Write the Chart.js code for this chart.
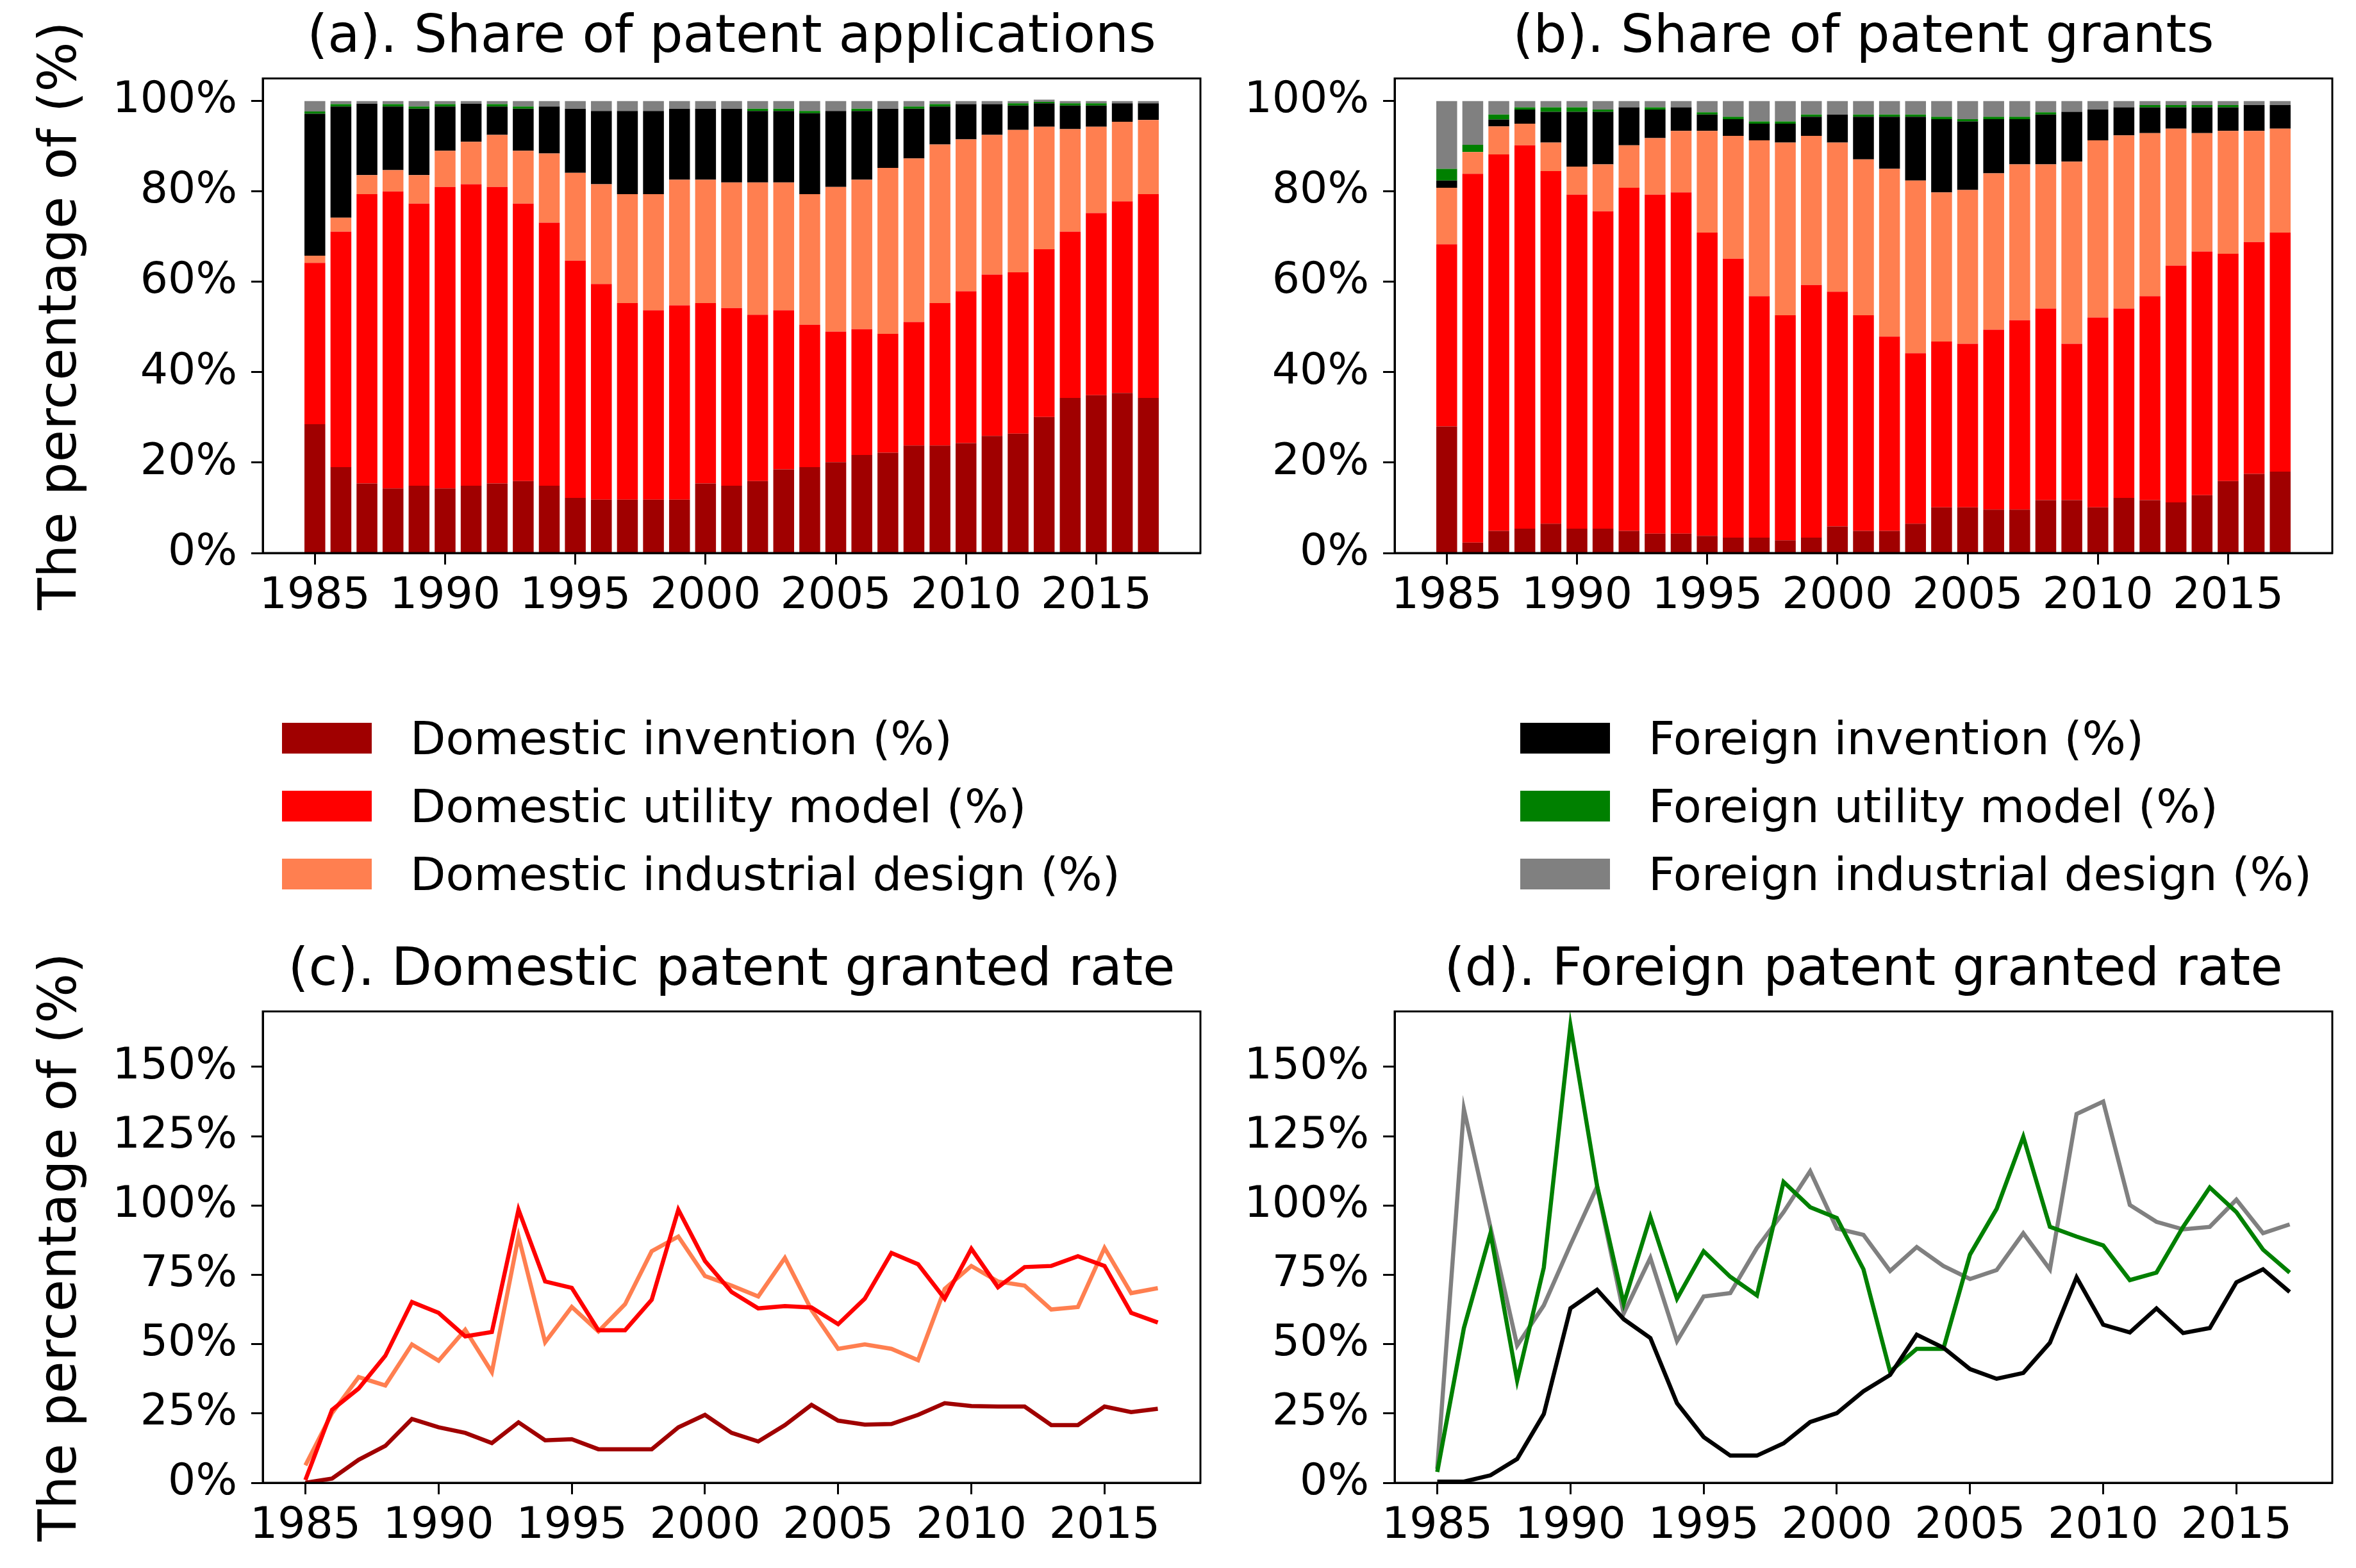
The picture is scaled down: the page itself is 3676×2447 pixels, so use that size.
<!DOCTYPE html>
<html>
<head>
<meta charset="utf-8">
<script src="https://cdn.jsdelivr.net/npm/chart.js@4.4.1/dist/chart.umd.min.js"></script>
<style>
  html, body { margin: 0; padding: 0; background: #fff; }
  body { position: relative; width: 3676px; height: 2447px; overflow: hidden; font-family: 'DejaVu Sans', sans-serif; }
  canvas { position: absolute; }
  .legend { position: absolute; }
  .legend-row { display: flex; align-items: center; height: 106px; font-size: 72px; color: #000; white-space: nowrap; }
  .legend-row .patch { width: 140px; height: 48px; margin-right: 60px; }
</style>
</head>
<body>
<canvas id="chart-a" width="1920" height="1010" style="left:0;top:0"></canvas>
<canvas id="chart-b" width="1756" height="1010" style="left:1920px;top:0"></canvas>
<canvas id="chart-c" width="1920" height="991" style="left:0;top:1456px"></canvas>
<canvas id="chart-d" width="1756" height="991" style="left:1920px;top:1456px"></canvas>
<div class="legend" id="legend-dom" style="left:440px;top:1099px"></div>
<div class="legend" id="legend-for" style="left:2372px;top:1099px"></div>

<script>
// ===== data =====
const years = [1985,1986,1987,1988,1989,1990,1991,1992,1993,1994,1995,1996,1997,1998,1999,2000,
  2001,2002,2003,2004,2005,2006,2007,2008,2009,2010,2011,2012,2013,2014,2015,2016,2017];
const yearTicks = [1985, 1990, 1995, 2000, 2005, 2010, 2015];
const shareTicks = [0, 20, 40, 60, 80, 100];
const rateTicks = [0, 25, 50, 75, 100, 125, 150];

const seriesNames = ['Domestic invention (%)', 'Domestic utility model (%)', 'Domestic industrial design (%)',
  'Foreign invention (%)', 'Foreign utility model (%)', 'Foreign industrial design (%)'];
const seriesColors = ['#a00000', '#ff0000', '#ff7f50', '#000000', '#008000', '#808080'];

// (a) share of applications
const appDomInv = [28.5,19.0,15.4,14.3,14.9,14.3,14.9,15.4,15.9,14.9,12.2,11.8,11.8,11.8,11.8,15.4,
  14.9,15.9,18.5,19.0,20.1,21.7,22.2,23.8,23.8,24.3,25.9,26.4,30.1,34.3,34.9,35.4,34.3];
const appDomUtil = [35.7,52.1,64.0,65.7,62.4,66.7,66.7,65.6,61.4,58.2,52.5,47.7,43.5,41.9,43.0,39.9,
  39.3,36.8,35.2,31.5,28.9,27.8,26.3,27.3,31.5,33.6,35.7,35.7,37.1,36.8,40.3,42.4,45.1];
const appDomDes = [1.6,3.1,4.2,4.7,6.3,8.0,9.4,11.5,11.7,15.3,19.4,22.1,24.1,25.7,27.8,27.3,
  27.8,29.3,28.3,28.9,32.0,33.1,36.7,36.2,35.1,33.6,30.9,31.5,27.1,22.7,19.1,17.6,16.4];
const appForInv = [31.4,24.6,15.8,14.1,14.7,9.8,8.4,6.3,9.3,10.4,14.2,16.2,18.4,18.4,15.7,15.7,
  16.3,15.8,15.8,17.9,16.8,15.2,13.1,11.0,8.4,7.8,6.8,5.4,5.2,5.2,4.7,4.1,3.7];
const appForUtil = [0.5,0.5,0,0.5,0.5,0.5,0,0.5,0.5,0,0,0,0,0,0,0,
  0,0.5,0.5,0.5,0,0.5,0,0.5,0.5,0,0,0.5,0.3,0.5,0.5,0,0];
const appForDes = [2.3,0.7,0.6,0.7,1.2,0.7,0.6,0.7,1.2,1.2,1.7,2.2,2.2,2.2,1.7,1.7,
  1.7,1.7,1.7,2.2,2.2,1.7,1.7,1.2,0.7,0.7,0.7,0.5,0.5,0.5,0.5,0.5,0.5];

// (b) share of grants
const grDomInv = [28.0,2.3,4.9,5.4,6.5,5.4,5.4,4.9,4.3,4.3,3.8,3.4,3.4,2.8,3.4,5.9,
  4.9,4.9,6.5,10.1,10.1,9.6,9.6,11.7,11.7,10.1,12.2,11.7,11.2,12.8,15.9,17.5,18.0];
const grDomUtil = [40.3,81.6,83.3,84.8,78.0,73.9,70.2,75.9,75.0,75.5,67.1,61.7,53.4,49.8,55.9,51.9,
  47.7,43.0,37.7,36.7,36.2,39.8,41.9,42.4,34.6,42.0,41.9,45.1,52.4,53.9,50.3,51.3,52.9];
const grDomDes = [12.5,4.8,6.2,4.8,6.3,6.2,10.4,9.4,12.5,13.6,22.5,27.2,34.5,38.2,33.0,33.0,
  34.5,37.1,38.2,33.0,34.0,34.6,34.5,31.9,40.3,39.2,38.3,36.1,30.3,26.2,27.2,24.6,23.0];
const grForInv = [1.6,0,1.5,3.1,6.8,12.1,11.6,8.4,6.3,5.2,3.6,3.7,3.7,4.2,4.2,6.2,
  9.4,11.5,14.1,16.2,15.2,12.0,10.0,11.0,11.0,6.8,6.2,5.7,4.7,5.7,5.2,5.7,5.2];
const grForUtil = [2.6,1.6,1.1,0.5,1.0,1.0,0.5,0,0.5,0,0.5,0.5,0.5,0.5,0.5,0,
  0.5,0.5,0.5,0.5,0.5,0.5,0.5,0.5,0,0,0,0.5,0.5,0.5,0.5,0,0];
const grForDes = [15.0,9.7,3.0,1.4,1.4,1.4,1.9,1.4,1.4,1.4,2.5,3.5,4.5,4.5,3.0,3.0,
  3.0,3.0,3.0,3.5,4.0,3.5,3.5,2.5,2.4,1.9,1.4,0.9,0.9,0.9,0.9,0.9,0.9];

// (c) domestic granted rate
const rateDomInv = [0,1.5,8.3,13.3,23.0,20.0,18.0,14.3,21.8,15.3,15.7,12.1,12.1,12.1,20.0,24.5,
  18.0,14.9,20.8,28.1,22.4,21.0,21.2,24.5,28.7,27.7,27.5,27.5,20.8,20.8,27.5,25.5,26.7];
const rateDomUtil = [1,26.3,34.0,45.8,65.2,61.3,52.8,54.4,98.5,72.6,70.3,55.0,55.0,66.0,98.5,80.0,
  68.8,62.9,63.7,63.2,57.2,66.4,82.9,78.8,66.4,84.4,70.5,77.8,78.2,81.7,78.2,61.3,57.8];
const rateDomDes = [6.3,25.1,38.1,35.1,49.9,44.0,55.2,39.9,88.8,50.7,63.4,54.6,64.4,83.5,88.8,74.6,
  71.1,67.2,81.1,62.3,48.3,49.9,48.3,44.2,69.9,78.2,72.6,71.1,62.5,63.4,84.7,68.4,70.2];

// (d) foreign granted rate
const rateForInv = [0.4,0.4,2.7,8.6,24.8,62.9,69.6,59.0,52.2,28.7,16.5,9.8,9.8,14.2,21.9,25.1,
  33.0,38.9,53.4,48.7,41.0,37.5,39.6,50.5,74.1,57.0,54.2,62.9,54.0,55.8,72.3,77.0,68.8];
const rateForUtil = [3.9,55.8,90.0,36.9,77.6,164.9,107.1,64.6,95.9,66.4,83.5,74.3,67.6,108.5,99.4,95.5,
  77.0,40.1,48.3,48.3,82.3,98.8,124.8,92.3,88.8,85.6,73.1,75.8,92.3,106.5,97.6,84.1,75.8];
const rateForDes = [5.0,134.8,92.0,49.5,64.0,85.8,106.8,61.1,81.1,51.1,67.2,68.4,84.7,97.6,112.4,91.7,
  89.4,76.4,85.0,78.2,73.5,76.7,90.0,77.0,133.0,137.5,100.2,94.1,91.4,92.3,102.1,90.0,93.2];

// ===== helpers =====
Chart.defaults.font.family = "'DejaVu Sans', sans-serif";
Chart.defaults.color = '#000';

// matplotlib-style box round the plot area
const frame = {
  id: 'frame',
  afterDraw(chart) {
    const { ctx, chartArea: a } = chart;
    ctx.save();
    ctx.strokeStyle = '#000';
    ctx.lineWidth = 3;
    ctx.strokeRect(a.left, a.top, a.right - a.left, a.bottom - a.top);
    ctx.restore();
  }
};

const toPoints = vals => vals.map((v, i) => ({ x: years[i], y: v }));

function xAxis(min, max, axisHeight) {
  return {
    type: 'linear', min, max, stacked: true, offset: false,
    afterBuildTicks: s => { s.ticks = yearTicks.map(v => ({ value: v })); },
    afterFit: s => { s.height = axisHeight; },
    grid: { offset: false, drawOnChartArea: false, tickLength: 18, tickWidth: 3, tickColor: '#000' },
    border: { display: true, color: '#000', width: 3 },
    ticks: { font: { size: 68 }, padding: 10, maxRotation: 0, autoSkip: false, callback: v => String(v) }
  };
}

function yAxis(max, tickVals, width, stacked, label) {
  return {
    min: 0, max, stacked,
    afterBuildTicks: s => { s.ticks = tickVals.map(v => ({ value: v })); },
    afterFit: s => { s.width = width; },
    grid: { drawOnChartArea: false, tickLength: 18, tickWidth: 3, tickColor: '#000' },
    border: { display: true, color: '#000', width: 3 },
    ticks: { font: { size: 68 }, padding: 22, callback: v => v + '%' },
    title: { display: !!label, text: label || '', font: { size: 82 }, padding: { top: 48, bottom: 0 } }
  };
}

function titleOpts(text) {
  return { display: true, text, fullSize: false, font: { size: 82, weight: 'normal' }, padding: { top: 11, bottom: 13 } };
}

function barChart(id, title, series, yWidth, rightPad, label) {
  new Chart(document.getElementById(id), {
    type: 'bar',
    data: {
      datasets: series.map((vals, i) => ({
        label: seriesNames[i],
        data: toPoints(vals),
        backgroundColor: seriesColors[i],
        borderWidth: 0,
        barPercentage: 0.8,
        categoryPercentage: 1.0
      }))
    },
    options: {
      responsive: false, animation: false,
      layout: { padding: { left: 0, right: rightPad, top: 0, bottom: 0 } },
      plugins: { legend: { display: false }, tooltip: { enabled: false }, title: titleOpts(title) },
      scales: { x: xAxis(1983, 2019, 147), y: yAxis(105, shareTicks, yWidth, true, label) }
    },
    plugins: [frame]
  });
}

function lineChart(id, title, series, colorIdx, yWidth, rightPad, label) {
  new Chart(document.getElementById(id), {
    type: 'line',
    data: {
      datasets: series.map((vals, i) => ({
        label: seriesNames[colorIdx[i]],
        data: toPoints(vals),
        borderColor: seriesColors[colorIdx[i]],
        borderWidth: 6.5,
        pointRadius: 0,
        tension: 0,
        fill: false
      }))
    },
    options: {
      responsive: false, animation: false,
      layout: { padding: { left: 0, right: rightPad, top: 0, bottom: 0 } },
      plugins: { legend: { display: false }, tooltip: { enabled: false }, title: titleOpts(title) },
      scales: { x: xAxis(1983.4, 2018.6, 133), y: yAxis(170, rateTicks, yWidth, false, label) }
    },
    plugins: [frame]
  });
}

// ===== charts =====
const yLabel = 'The percentage of (%)';
barChart('chart-a', '(a). Share of patent applications',
  [appDomInv, appDomUtil, appDomDes, appForInv, appForUtil, appForDes], 410, 47, yLabel);
barChart('chart-b', '(b). Share of patent grants',
  [grDomInv, grDomUtil, grDomDes, grForInv, grForUtil, grForDes], 256, 37, null);
lineChart('chart-c', '(c). Domestic patent granted rate',
  [rateDomInv, rateDomUtil, rateDomDes], [0, 1, 2], 410, 47, yLabel);
lineChart('chart-d', '(d). Foreign patent granted rate',
  [rateForInv, rateForUtil, rateForDes], [3, 4, 5], 256, 37, null);

// ===== legends =====
function fillLegend(id, idxs) {
  document.getElementById(id).innerHTML = idxs.map(i => `
    <div class="legend-row"><span class="patch" style="background:${seriesColors[i]}"></span>${seriesNames[i]}</div>
  `).join('');
}
fillLegend('legend-dom', [0, 1, 2]);
fillLegend('legend-for', [3, 4, 5]);
</script>
</body>
</html>
